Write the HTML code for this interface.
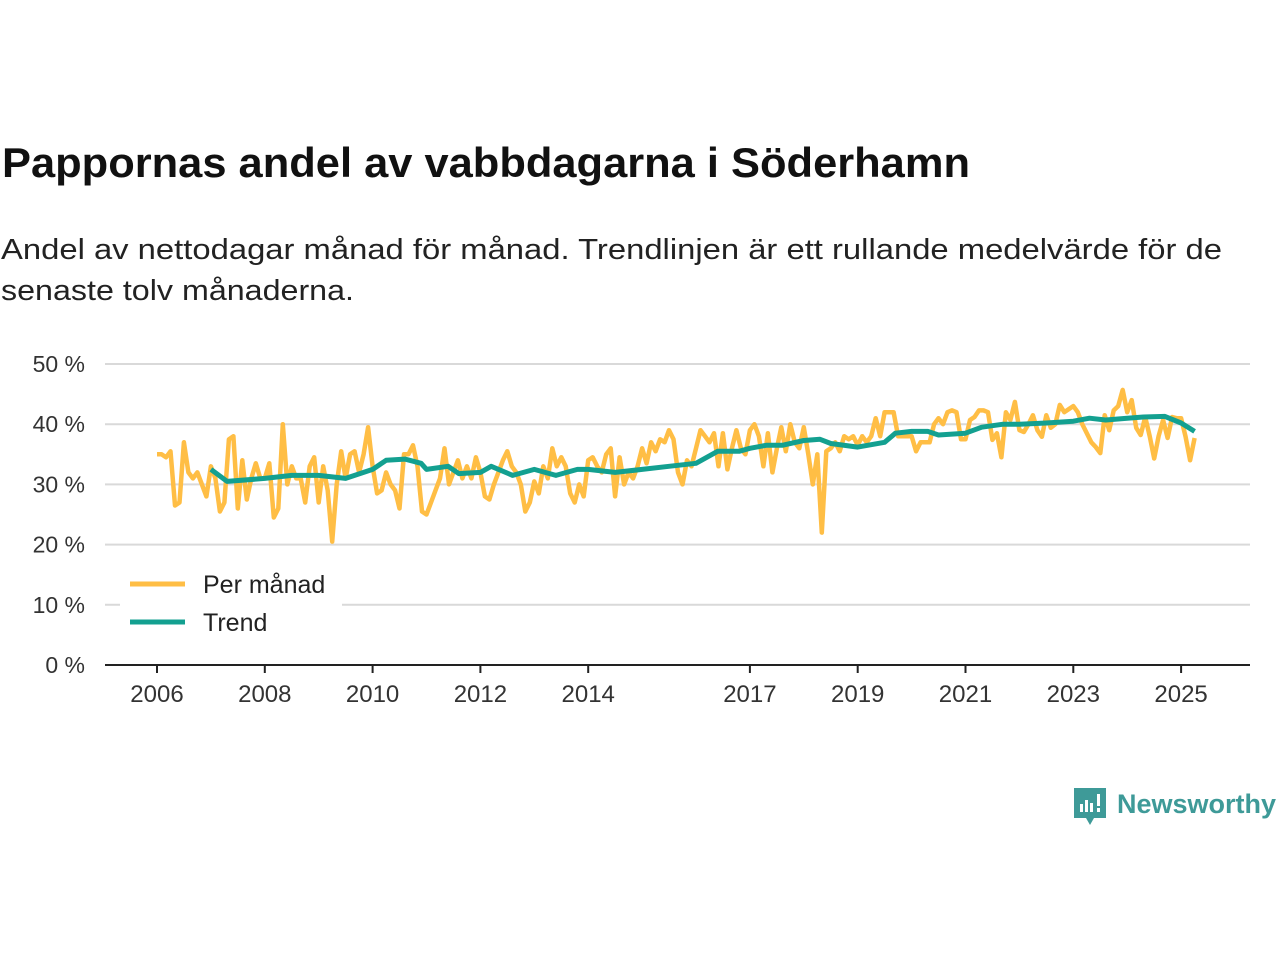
<!DOCTYPE html>
<html><head><meta charset="utf-8"><style>
body{margin:0;background:#fff;width:1280px;height:960px;overflow:hidden;font-family:"Liberation Sans","DejaVu Sans",sans-serif;}
</style></head><body>
<svg id="c" width="1280" height="960" viewBox="0 0 1280 960">
<text x="2" y="177" font-size="42" font-weight="bold" fill="#111" textLength="968" lengthAdjust="spacingAndGlyphs">Pappornas andel av vabbdagarna i Söderhamn</text>
<text x="1" y="259" font-size="29" fill="#222" textLength="1221" lengthAdjust="spacingAndGlyphs">Andel av nettodagar månad för månad. Trendlinjen är ett rullande medelvärde för de</text>
<text x="1" y="300" font-size="29" fill="#222" textLength="353" lengthAdjust="spacingAndGlyphs">senaste tolv månaderna.</text>
<g id="grid"></g><g id="marks"></g>
<g>
<rect x="120" y="562" width="222" height="80" fill="#fff"/>
<line x1="130" y1="584" x2="185" y2="584" stroke="#FFBE45" stroke-width="5"/>
<text x="203" y="593" font-size="25" fill="#222">Per månad</text>
<line x1="130" y1="622" x2="185" y2="622" stroke="#13A090" stroke-width="5"/>
<text x="203" y="631" font-size="25" fill="#222">Trend</text>
</g>
<g>
<path d="M1074 788h32v30h-12l-4 7-4-7h-12z" fill="#3E9A98"/>
<rect x="1080" y="804" width="3" height="8" fill="#fff"/><rect x="1085" y="800" width="3" height="12" fill="#fff"/><rect x="1090" y="803" width="3" height="9" fill="#fff"/><rect x="1097" y="794" width="3" height="12" fill="#fff"/><rect x="1097" y="808" width="3" height="4" fill="#fff"/>
<text x="1117" y="813" font-size="27" font-weight="bold" fill="#3E9A98" textLength="159" lengthAdjust="spacingAndGlyphs">Newsworthy</text>
</g>
</svg>
<script>
const yTicks=[0,10,20,30,40,50];
const xTicks=[2006,2008,2010,2012,2014,2017,2019,2021,2023,2025];
const startYear=2006;
const monthly=[
35,35,34.5,35.5,26.5,27,37,32,31,32,30,28,
33,31,25.5,27,37.5,38,26,34,27.5,31,33.5,31,
31,33.5,24.5,26,40,30,33,31,31,27,33,34.5,
27,33,29,20.5,30,35.5,31,35,35.5,32,35,39.5,
33,28.5,29,32,30,29,26,35,35,36.5,33,25.5,
25,27,29,31,36,30,32,34,31,33,31,34.5,
32,28,27.5,30,32,34,35.5,33,32,30,25.5,27,
30.5,28.5,33,31,36,33,34.5,33,28.5,27,30,28,
34,34.5,33,32,35,36,28,34.5,30,32,31,33,
36,33.5,37,35.5,37.5,37,39,37.5,32,30,34,33,
36,39,38,37,38.5,33,38.5,32.5,36,39,36,35,
39,40,38,33,38.5,32,36,39.5,35.5,40,37,36,
39.5,35,30,35,22,35.5,36,37,35.5,38,37.5,38,
36.5,38,37,38,41,38,42,42,42,38,38,38,
38,35.5,37,37,37,40,41,40,42,42.3,42,37.5,
37.5,40.7,41.2,42.3,42.3,42,37.4,38.5,34.5,42,40.7,43.7,
39,38.7,40,41.5,39,37.9,41.5,39.4,40,43.2,42,42.5,
43,42,40,38.5,37,36.2,35.2,41.5,39,42.3,43,45.7,
42,44,39.4,38.2,41.2,38,34.3,38,40.7,37.7,41.2,41,
41,37.9,34,37.7];
const trendDates=[2007,2007.3,2008,2008.5,2009,2009.5,2010,2010.25,2010.6,2010.9,2011,2011.4,2011.6,2012,2012.2,2012.6,2013,2013.4,2013.8,2014,2014.5,2015,2015.5,2016,2016.4,2016.8,2017,2017.3,2017.6,2018,2018.3,2018.5,2019,2019.5,2019.7,2020,2020.3,2020.5,2021,2021.3,2021.7,2022,2022.5,2023,2023.3,2023.6,2024,2024.3,2024.7,2025,2025.25];
const trendValues=[32.5,30.5,31,31.5,31.5,31,32.5,34,34.2,33.5,32.5,33,31.8,32,33,31.5,32.5,31.5,32.5,32.5,32,32.5,33,33.5,35.5,35.5,36,36.5,36.5,37.3,37.5,36.8,36.2,37,38.5,38.8,38.8,38.2,38.5,39.5,40,40,40.2,40.5,41,40.7,41,41.2,41.3,40.2,38.8];
const ns="http://www.w3.org/2000/svg";
const X=t=>157+(t-2006)*53.9;
const Y=v=>665-v*6.02;
const g=document.getElementById('grid'),m=document.getElementById('marks');
function mk(tag,a,p){const e=document.createElementNS(ns,tag);for(const k in a)e.setAttribute(k,a[k]);p.appendChild(e);return e;}
yTicks.forEach(v=>{
 if(v>0){const l=mk('line',{x1:105,x2:1250,y1:Y(v),y2:Y(v),stroke:'#d9d9d9','stroke-width':2},g);
 
 }
 const t=mk('text',{x:85,y:Y(v)+8,'font-size':23,fill:'#333','text-anchor':'end'},g);t.textContent=v+' %';
 
 
});
const ax=mk('line',{x1:105,x2:1250,y1:665,y2:665,stroke:'#222','stroke-width':2},g);


xTicks.forEach(y=>{
 const tk=mk('line',{x1:X(y),x2:X(y),y1:665,y2:673,stroke:'#222','stroke-width':2},g);
 
 
 const t=mk('text',{x:X(y),y:702,'font-size':24,fill:'#333','text-anchor':'middle'},g);t.textContent=y;
 
 
});
const mp=mk('path',{d:monthly.map((v,i)=>(i?'L':'M')+X(startYear+i/12).toFixed(1)+' '+Y(v).toFixed(1)).join(''),fill:'none',stroke:'#FFBE45','stroke-width':4.5,'stroke-linejoin':'round'},m);


const tp=mk('path',{d:trendValues.map((v,i)=>(i?'L':'M')+X(trendDates[i]).toFixed(1)+' '+Y(v).toFixed(1)).join(''),fill:'none',stroke:'#13A090','stroke-width':5,'stroke-linejoin':'round'},m);


</script>
</body></html>
